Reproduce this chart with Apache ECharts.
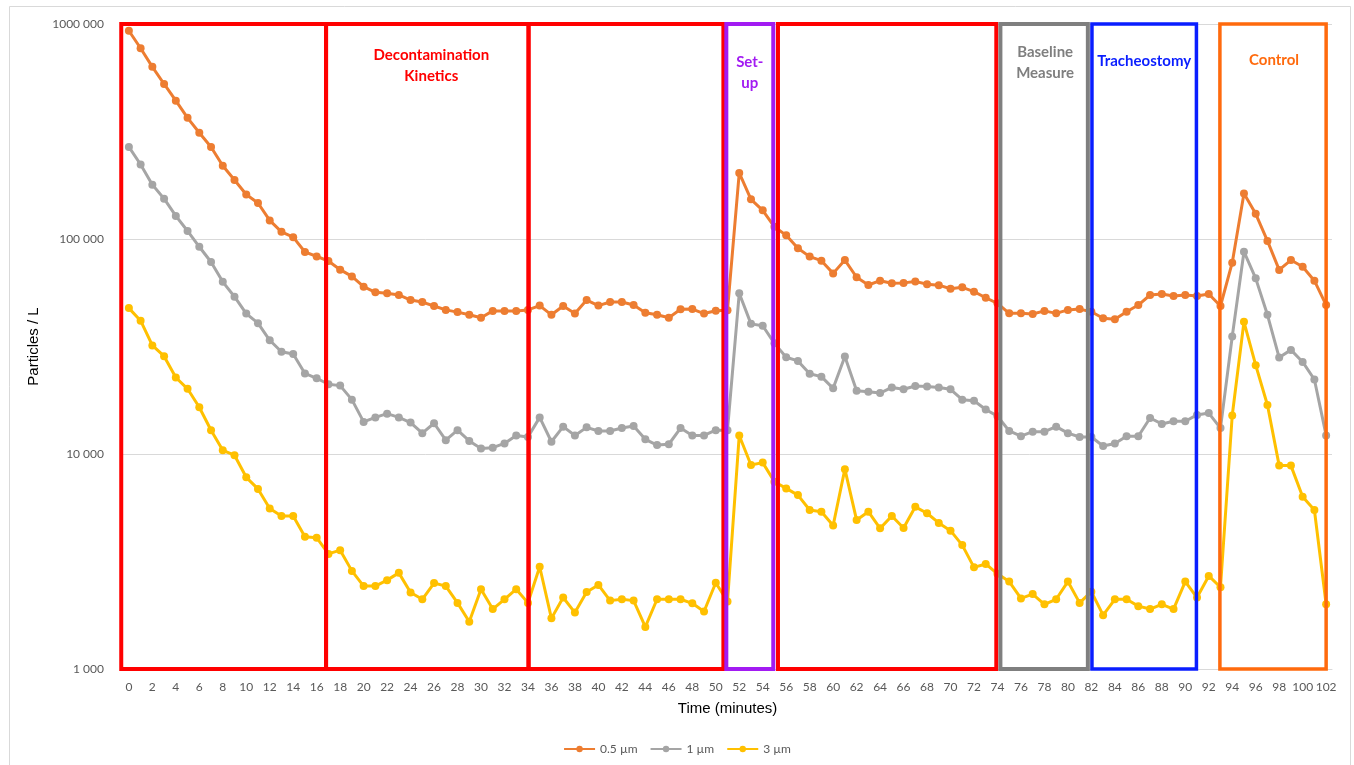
<!DOCTYPE html>
<html>
<head>
<meta charset="utf-8">
<title>Particles / L over time</title>
<script src="https://cdn.jsdelivr.net/npm/echarts@6/dist/echarts.min.js"></script>
<style>
  html, body { margin: 0; padding: 0; background: #ffffff; }
  #chart { width: 1354px; height: 765px; }
</style>
</head>
<body>
<div id="chart"></div>
<script>
// Time axis categories (minutes)
const minutes = [
  0, 1, 2, 3, 4, 5, 6, 7, 8, 9, 10, 11, 12, 13, 14, 15, 16, 17, 18, 19,
  20, 21, 22, 23, 24, 25, 26, 27, 28, 29, 30, 31, 32, 33, 34, 35, 36, 37, 38, 39,
  40, 41, 42, 43, 44, 45, 46, 47, 48, 49, 50, 51, 52, 53, 54, 55, 56, 57, 58, 59,
  60, 61, 62, 63, 64, 65, 66, 67, 68, 69, 70, 71, 72, 73, 74, 75, 76, 77, 78, 79,
  80, 81, 82, 83, 84, 85, 86, 87, 88, 89, 90, 91, 92, 93, 94, 95, 96, 97, 98, 99,
  100, 101, 102
];

// Particle counts per litre, one value per minute
const pm05 = [
  930000, 771000, 632000, 526000, 440000, 366000, 312000, 268000, 219000, 188000,
  161000, 147000, 122000, 108000, 102000, 87000, 83000, 79000, 72000, 67000,
  60000, 56500, 55900, 54900, 52000, 50900, 48800, 46800, 45700, 44400,
  43000, 46300, 46300, 46300, 46800, 49000, 44400, 48800, 45000, 52000,
  49000, 50900, 50900, 49300, 45400, 44400, 43000, 47100, 47200, 45000,
  46400, 46600, 203000, 153000, 136000, 114000, 104000, 90500, 82800, 79300,
  69200, 79800, 66400, 61100, 64000, 62200, 62500, 63500, 61600, 61000,
  58700, 59600, 56900, 53300, 50200, 45100, 45100, 44800, 46300, 45100,
  46800, 47200, 45900, 42800, 42300, 45900, 49300, 54900, 55500, 54300,
  54900, 54300, 55500, 48800, 77600, 163000, 131000, 98000, 71800, 79800,
  74300, 64000, 49300
];

const pm1 = [
  268000, 222000, 179000, 154000, 128000, 109000, 92000, 78200, 63200, 53900,
  45000, 40600, 33800, 29900, 29200, 23700, 22500, 21100, 20800, 17900,
  14100, 14800, 15400, 14800, 14000, 12500, 13900, 11600, 12900, 11500,
  10600, 10700, 11200, 12200, 12000, 14800, 11400, 13400, 12200, 13300,
  12800, 12800, 13200, 13500, 11700, 11000, 11100, 13200, 12200, 12200,
  12900, 12900, 55900, 40300, 39500, 32700, 28200, 27100, 23600, 22900,
  20200, 28400, 19700, 19500, 19200, 20400, 20000, 20700, 20600, 20400,
  20000, 17900, 17700, 16100, 15000, 12800, 12100, 12700, 12700, 13400,
  12500, 12000, 12000, 10900, 11200, 12100, 12100, 14700, 13800, 14200,
  14200, 15200, 15500, 13200, 35200, 87300, 65600, 44400, 28100, 30500,
  26800, 22200, 12200
];

const pm3 = [
  47700, 41700, 32000, 28500, 22700, 20100, 16500, 12900, 10400, 9870,
  7790, 6880, 5580, 5150, 5150, 4120, 4080, 3430, 3570, 2860,
  2430, 2430, 2590, 2800, 2270, 2110, 2510, 2430, 2030, 1660,
  2350, 1900, 2110, 2350, 2030, 2990, 1720, 2150, 1830, 2280,
  2460, 2080, 2110, 2080, 1570, 2110, 2110, 2110, 2020, 1850,
  2520, 2060, 12200, 8890, 9120, 7430, 6920, 6440, 5490, 5390,
  4650, 8500, 4930, 5390, 4510, 5150, 4530, 5680, 5300, 4780,
  4400, 3770, 2970, 3080, 2770, 2550, 2130, 2230, 2000, 2110,
  2550, 2030, 2290, 1780, 2110, 2110, 1960, 1900, 2000, 1900,
  2550, 2150, 2710, 2400, 15100, 41200, 25900, 16900, 8830, 8830,
  6330, 5490, 2000
];

const seriesNames = ['0.5 µm', '1 µm', '3 µm'];

// Y axis tick labels for 10^3 .. 10^6
const yTickLabels = ['1 000', '10 000', '100 000', '1000 000'];

// Experiment phases: start and end time (minutes) and caption
const phaseStart = [-0.65, 16.8, 34.05, 50.9, 55.3, 74.25, 82.05, 92.95];
const phaseEnd   = [16.8, 34.05, 50.65, 54.9, 73.9, 81.7, 90.95, 102.0];
const phaseLabel = ['', 'Decontamination\nKinetics', '', 'Set-\nup', '', 'Baseline\nMeasure', 'Tracheostomy', 'Control'];

// Drawing styles for the phase frames
const phaseColor = ['#FF0000', '#FF0000', '#FF0000', '#A21BF2', '#FF0000', '#7F7F7F', '#0A1EFF', '#FF6A0D'];
const phaseStroke = [4, 4, 4, 4, 4, 4, 3.5, 3.5];
const phaseTextDy = [0, 41.5, 0, 48.5, 0, 38.5, 37, 36];
const phaseTextDx = [0, 4, 0, 0, 0, 1, 0, 1];

const Y_MIN = 1000, Y_MAX = 1000000;
const colors = ['#ED7D31', '#A5A5A5', '#FFC000'];

const phaseData = phaseStart.map((s, i) => [s, phaseEnd[i], Y_MAX, Y_MIN, i]);

const chart = echarts.init(document.getElementById('chart'), null, { renderer: 'canvas' });

function lineSeries(name, values, color) {
  return {
    name: name,
    type: 'line',
    data: values,
    xAxisIndex: 0,
    yAxisIndex: 0,
    symbol: 'circle',
    symbolSize: 8,
    showSymbol: true,
    showAllSymbol: true,
    color: color,
    lineStyle: { width: 3, color: color },
    itemStyle: { color: color },
    emphasis: { disabled: true },
    z: 3
  };
}

const option = {
  animation: false,
  backgroundColor: '#ffffff',
  textStyle: { fontFamily: 'Lato, "Liberation Sans", sans-serif' },
  graphic: [{
    type: 'rect',
    silent: true,
    shape: { x: 9.5, y: 6.5, width: 1341, height: 800 },
    style: { fill: 'none', stroke: '#D9D9D9', lineWidth: 1 }
  }],
  grid: { left: 123, right: 22, top: 24, bottom: 96, containLabel: false },
  legend: {
    data: seriesNames,
    top: 738,
    left: 'center',
    itemWidth: 31,
    itemHeight: 8,
    itemGap: 12,
    textStyle: { fontFamily: 'Lato', fontSize: 12, color: '#595959' }
  },
  xAxis: [{
    type: 'category',
    data: minutes.map(String),
    boundaryGap: true,
    name: 'Time (minutes)',
    nameLocation: 'middle',
    nameGap: 32,
    nameTextStyle: { fontFamily: '"Liberation Sans", Arial, sans-serif', fontSize: 15, color: '#000000' },
    axisLine: { show: true, lineStyle: { color: '#D9D9D9', width: 1 } },
    axisTick: { show: false },
    axisLabel: { interval: 1, margin: 12, fontFamily: 'Lato', fontSize: 12, color: '#595959' },
    splitLine: { show: false }
  }, {
    type: 'value',
    min: -0.5,
    max: 102.5,
    show: false,
    splitLine: { show: false }
  }],
  yAxis: [{
    type: 'log',
    logBase: 10,
    min: Y_MIN,
    max: Y_MAX,
    name: 'Particles / L',
    nameLocation: 'middle',
    nameGap: 73,
    nameRotate: 90,
    nameTextStyle: { fontFamily: '"Liberation Sans", Arial, sans-serif', fontSize: 15, color: '#000000' },
    axisLine: { show: false },
    axisTick: { show: false },
    axisLabel: {
      margin: 19,
      fontFamily: 'Lato',
      fontSize: 12,
      color: '#595959',
      formatter: v => yTickLabels[Math.round(Math.log10(v)) - 3] || ''
    },
    splitLine: { show: true, lineStyle: { color: '#D9D9D9', width: 1 } }
  }],
  series: [
    lineSeries(seriesNames[0], pm05, colors[0]),
    lineSeries(seriesNames[1], pm1, colors[1]),
    lineSeries(seriesNames[2], pm3, colors[2]),
    {
      // Phase frames with captions, drawn over the curves
      type: 'custom',
      name: 'phases',
      xAxisIndex: 1,
      yAxisIndex: 0,
      silent: true,
      z: 10,
      encode: { x: [0, 1], y: [2, 3] },
      data: phaseData,
      renderItem: function (params, api) {
        const i = api.value(4);
        const topLeft = api.coord([api.value(0), api.value(2)]);
        const botRight = api.coord([api.value(1), api.value(3)]);
        const children = [{
          type: 'rect',
          shape: {
            x: topLeft[0],
            y: topLeft[1],
            width: botRight[0] - topLeft[0],
            height: botRight[1] - topLeft[1]
          },
          style: { fill: 'none', stroke: phaseColor[i], lineWidth: phaseStroke[i] }
        }];
        if (phaseLabel[i]) {
          children.push({
            type: 'text',
            x: (topLeft[0] + botRight[0]) / 2 + phaseTextDx[i],
            y: topLeft[1] + phaseTextDy[i],
            style: {
              text: phaseLabel[i],
              fill: phaseColor[i],
              font: 'bold 15px Lato, "Open Sans", sans-serif',
              align: 'center',
              verticalAlign: 'middle',
              lineHeight: 21
            }
          });
        }
        return { type: 'group', children: children };
      }
    }
  ]
};

chart.setOption(option);
</script>
</body>
</html>
